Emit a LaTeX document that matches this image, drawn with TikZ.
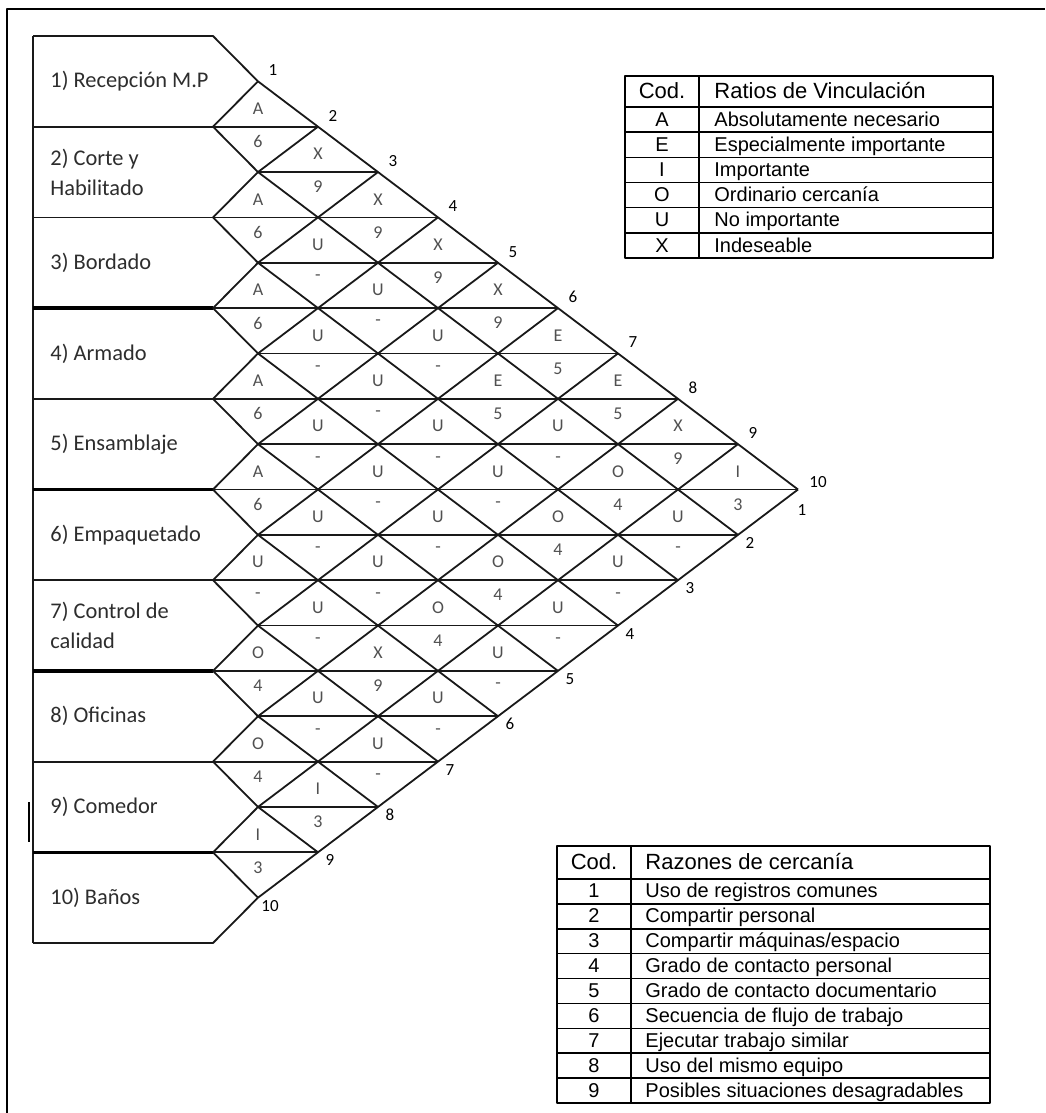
\documentclass[tikz,border=0pt]{standalone}
\usepackage{fontspec}
\setmainfont{Carlito}
\newfontfamily\tabfont{Liberation Sans}
\definecolor{line_gray}{RGB}{25,25,25}
\definecolor{dept_text}{RGB}{45,45,45}
\definecolor{code_gray}{RGB}{80,80,80}

\begin{document}
\begin{tikzpicture}[x=0.5pt,y=-0.5pt,line join=round]
    \tikzstyle{grid}=[draw=line_gray, line width=0.9pt]
    \tikzstyle{sep}=[draw=black, line width=1.8pt]
    \tikzstyle{dept}=[anchor=west, align=left, inner sep=0pt, text=dept_text, font=\fontsize{11.2}{15}\selectfont]
    \tikzstyle{code}=[inner sep=0pt, text=code_gray, font=\fontsize{9}{10}\selectfont]
    \tikzstyle{tick}=[inner sep=0pt, text=black, font=\fontsize{8.5}{10}\selectfont]
    \tikzstyle{cell}=[inner sep=0pt, anchor=base, font=\tabfont\fontsize{10}{12}\selectfont]
    \tikzstyle{celltext}=[style=cell, anchor=base west]
    \tikzstyle{head}=[inner sep=0pt, anchor=base, font=\tabfont\fontsize{11}{13}\selectfont]
    \tikzstyle{headtext}=[style=head, anchor=base west]

    \useasboundingbox (0,0) rectangle (1045,1113);
    % frame
    \draw[line width=1pt] (7,1113) -- (7,9) -- (1045,9);
    \draw[line width=1.2pt] (29,802) -- (29,842);

    % department boxes and chart outline
    \draw[grid] (33,36) -- (33,943);
    \draw[grid] (33,36) -- (213,36) -- (258,81.35) -- (798,489.5);
    \draw[grid] (33,943) -- (213,943) -- (258,897.65) -- (798,489.5);
    \foreach \m in {2,...,18}{
      \pgfmathsetmacro{\hy}{36+45.35*\m}
      \pgfmathsetmacro{\hk}{min(\m,20-\m)}
      \pgfmathsetmacro{\hx}{198+60*\hk}
      \ifodd\m
        \draw[grid] (258,\hy) -- (\hx,\hy);
      \else
        \draw[grid] (33,\hy) -- (\hx,\hy);
      \fi
    }
    \foreach \m in {6,10,14,18}
      \draw[sep] (33,{36+45.35*\m}) -- (213,{36+45.35*\m});
    \foreach \i in {1,...,9}{
      \pgfmathsetmacro{\ya}{36+45.35*2*\i}
      \pgfmathsetmacro{\yb}{36+45.35*(2*\i+1)}
      \pgfmathsetmacro{\yc}{36+45.35*(10+\i)}
      \pgfmathsetmacro{\xc}{198+60*(10-\i)}
      \draw[grid] (213,\ya) -- (258,\yb) -- (\xc,\yc);
      \pgfmathsetmacro{\yd}{36+45.35*(2*\i-1)}
      \pgfmathsetmacro{\ye}{36+45.35*\i}
      \pgfmathsetmacro{\xe}{198+60*\i}
      \draw[grid] (213,\ya) -- (258,\yd) -- (\xe,\ye);
    }

    \node[dept] (d1)  at (50,81.4)  {1) Recepción M.P};
    \node[dept] (d2)  at (50,172.1) {2) Corte y\\Habilitado};
    \node[dept] (d3)  at (50,262.8) {3) Bordado};
    \node[dept] (d4)  at (50,353.5) {4) Armado};
    \node[dept] (d5)  at (50,444.2) {5) Ensamblaje};
    \node[dept] (d6)  at (50,534.8) {6) Empaquetado};
    \node[dept] (d7)  at (50,625.5) {7) Control de\\calidad};
    \node[dept] (d8)  at (50,716.2) {8) Oficinas};
    \node[dept] (d9)  at (50,806.9) {9) Comedor};
    \node[dept] (d10) at (50,897.6) {10) Baños};

    % ratings: i/j/letter/reason
    \foreach \i/\j/\r/\n in {1/2/A/6, 1/3/X/9, 1/4/X/9, 1/5/X/9, 1/6/X/9, 1/7/E/5, 1/8/E/5, 1/9/X/9, 1/10/I/3,
        2/3/A/6, 2/4/U/-, 2/5/U/-, 2/6/U/-, 2/7/E/5, 2/8/U/-, 2/9/O/4, 2/10/U/-,
        3/4/A/6, 3/5/U/-, 3/6/U/-, 3/7/U/-, 3/8/U/-, 3/9/O/4, 3/10/U/-,
        4/5/A/6, 4/6/U/-, 4/7/U/-, 4/8/U/-, 4/9/O/4, 4/10/U/-,
        5/6/A/6, 5/7/U/-, 5/8/U/-, 5/9/O/4, 5/10/U/-,
        6/7/U/-, 6/8/U/-, 6/9/X/9, 6/10/U/-,
        7/8/O/4, 7/9/U/-, 7/10/U/-,
        8/9/O/4, 8/10/I/3,
        9/10/I/3}{
      \pgfmathsetmacro{\cx}{198+60*(\j-\i)}
      \pgfmathsetmacro{\cy}{36+45.35*(\i+\j-1)}
      \node[code] (r\i-\j) at (\cx,\cy-18) {\r};
      \node[code] (n\i-\j) at (\cx,\cy+15) {\n};
    }

    % numbers along the two edges
    \foreach \k in {1,...,9}
      \node[tick] (t\k) at ({213+60*\k},{36+45.35*\k-11}) {\k};
    \node[tick] (t10) at (818,482) {10};
    \node[tick] (b1) at (802,510) {1};
    \foreach \k in {2,...,10}
      \node[tick] (b\k) at ({210+60*(11-\k)},{36+45.35*(9+\k)+8}) {\k};

    % ratings table
    \draw[line width=0.8pt] (625,76) rectangle (993,258);
    \draw[line width=0.8pt] (699,76) -- (699,258);
    \draw[line width=0.8pt] (625,107) -- (993,107);
    \node[head] (hc1) at (662,98) {Cod.};
    \node[headtext] (ht1) at (714,98) {Ratios de Vinculación};
    \foreach \c/\t [count=\q] in {A/Absolutamente necesario, E/Especialmente importante, I/Importante,
        O/Ordinario cercanía, U/No importante, X/Indeseable}{
      \pgfmathsetmacro{\ry}{107+25.17*\q}
      \draw[line width=0.8pt] (625,\ry) -- (993,\ry);
      \node[cell] (rc\q) at (662,\ry-6) {\c};
      \node[celltext] (rt\q) at (714,\ry-6) {\t};
    }

    % reasons table
    \draw[line width=0.8pt] (557,846) rectangle (990,1103);
    \draw[line width=0.8pt] (631,846) -- (631,1103);
    \draw[line width=0.8pt] (557,879) -- (990,879);
    \node[head] (hc2) at (594,869) {Cod.};
    \node[headtext] (ht2) at (645,869) {Razones de cercanía};
    \foreach \c/\t [count=\q] in {1/Uso de registros comunes, 2/Compartir personal, 3/{Compartir máquinas/espacio},
        4/Grado de contacto personal, 5/Grado de contacto documentario, 6/Secuencia de flujo de trabajo,
        7/Ejecutar trabajo similar, 8/Uso del mismo equipo, 9/Posibles situaciones desagradables}{
      \pgfmathsetmacro{\ry}{879+24.89*\q}
      \draw[line width=0.8pt] (557,\ry) -- (990,\ry);
      \node[cell] (sc\q) at (594,\ry-6) {\c};
      \node[celltext] (st\q) at (645,\ry-6) {\t};
    }
\end{tikzpicture}
\end{document}
